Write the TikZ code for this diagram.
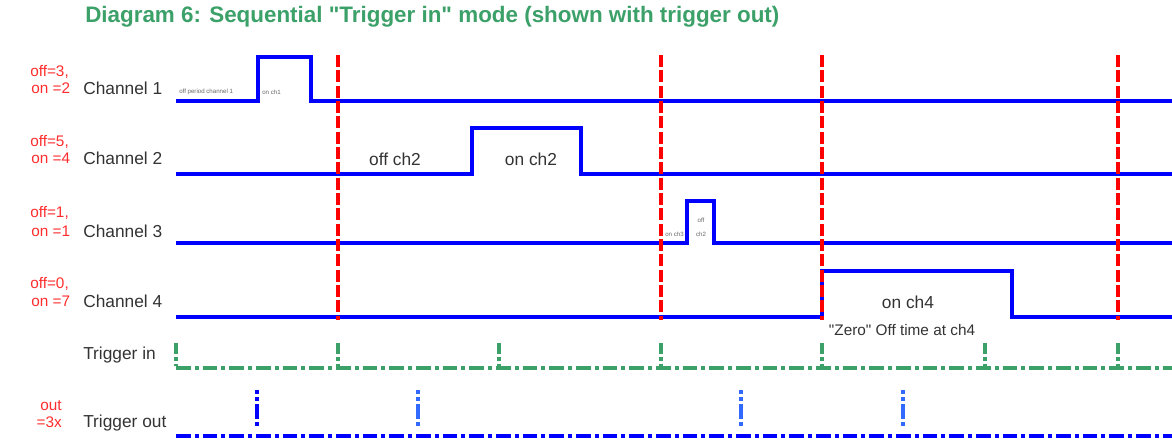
\documentclass[tikz,border=0pt]{standalone}
\usepackage{fontspec}
\setmainfont{Liberation Sans}[Ligatures=TeXOff]
\definecolor{titlegreen}{RGB}{60,160,105}
\definecolor{labelred}{RGB}{255,45,45}
\definecolor{paleblue}{RGB}{50,105,255}
\begin{document}
\begin{tikzpicture}[x=0.75pt, y=-0.75pt,
    wave/.style={draw=blue, line width=3.6pt},
    sync/.style={draw=red, line width=2.4pt, dash pattern=on 9pt off 2.5pt},
    trigin/.style={draw=titlegreen, line width=3pt, dash pattern=on 11pt off 3pt on 3pt off 3pt},
    trigout/.style={draw=blue, line width=3pt, dash pattern=on 11pt off 3pt on 3pt off 3pt},
    intick/.style={draw=titlegreen, line width=3pt, dash pattern=on 8pt off 2.5pt on 3pt off 2pt},
    outtick/.style={line width=3pt, dash pattern=on 3pt off 2.5pt on 3pt off 2pt on 11pt off 2.5pt on 3pt off 9pt},
    chan/.style={font=\fontsize{13}{15}\selectfont, text=black!80, inner sep=0pt, anchor=west},
    cnt/.style={font=\fontsize{11.5}{13}\selectfont, text=labelred, inner sep=0pt, anchor=west},
    note/.style={font=\fontsize{13}{15}\selectfont, text=black!80, inner sep=0pt},
    tiny/.style={font=\fontsize{4.6}{5}\selectfont, text=black!60, inner sep=0pt}]
\useasboundingbox (0,0) rectangle (1172,440);

% title
\node[anchor=west, inner sep=0pt, text=titlegreen, font=\fontsize{16.8}{19}\selectfont\bfseries]
  (title) at (85,17) {Diagram 6: Sequential "Trigger in" mode (shown with trigger out)};

% channel waveforms
\draw[wave] (176,101) -- (258,101) -- (258,57) -- (311,57) -- (311,101) -- (1176,101);
\draw[wave] (176,174) -- (472,174) -- (472,128) -- (581,128) -- (581,174) -- (1176,174);
\draw[wave] (176,243) -- (687,243) -- (687,201) -- (714,201) -- (714,243) -- (1176,243);
\draw[wave] (176,317) -- (822,317) -- (822,271) -- (1012,271) -- (1012,317) -- (1176,317);

% trigger in markers
\foreach \x in {338,661,822,1118}
  \draw[sync] (\x,55) -- (\x,320);

% labels
\node[chan] (ch1) at (83,88) {Channel 1};
\node[chan] (ch2) at (83,158) {Channel 2};
\node[chan] (ch3) at (83,231) {Channel 3};
\node[chan] (ch4) at (83,301) {Channel 4};
\node[chan] (tin) at (83,355) {Trigger in};
\node[chan] (tout) at (83,423) {Trigger out};

\node[cnt] (off1) at (30,72) {off=3,};
\node[cnt] (on1) at (31,88) {on =2};
\node[cnt] (off2) at (30,142) {off=5,};
\node[cnt] (on2) at (31,158) {on =4};
\node[cnt] (off3) at (30,213) {off=1,};
\node[cnt] (on3) at (31,231) {on =1};
\node[cnt] (off4) at (30,284) {off=0,};
\node[cnt] (on4) at (31,301) {on =7};
\node[cnt, anchor=east] (outn) at (62,406) {out};
\node[cnt, anchor=east] (outx) at (62,422) {=3x};

\node[note] (offch2) at (395,159) {off ch2};
\node[note] (onch2) at (531,159) {on ch2};
\node[note] (onch4) at (908,302) {on ch4};
\node[note, font=\fontsize{11.5}{13}\selectfont] (zero) at (902,330) {"Zero" Off time at ch4};

\node[tiny, anchor=west] (offp1) at (179,92) {off period channel 1};
\node[tiny, anchor=west] (onc1) at (262,92) {on ch1};
\node[tiny, anchor=east] (onc3) at (684,234) {on ch3};
\node[tiny] (offc3) at (701,220) {off};
\node[tiny] (chc3) at (701,234) {ch2};

% trigger lines
\draw[trigin] (176,368) -- (1176,368);
\foreach \x in {176,338,499,661,822,985,1118}
  \draw[intick] (\x,343) -- (\x,366);
\draw[trigout] (176,436) -- (1176,436);
\draw[outtick, draw=blue] (257,390) -- (257,434);
\foreach \x in {418,741,903}
  \draw[outtick, draw=paleblue] (\x,390) -- (\x,434);
\end{tikzpicture}
\end{document}
